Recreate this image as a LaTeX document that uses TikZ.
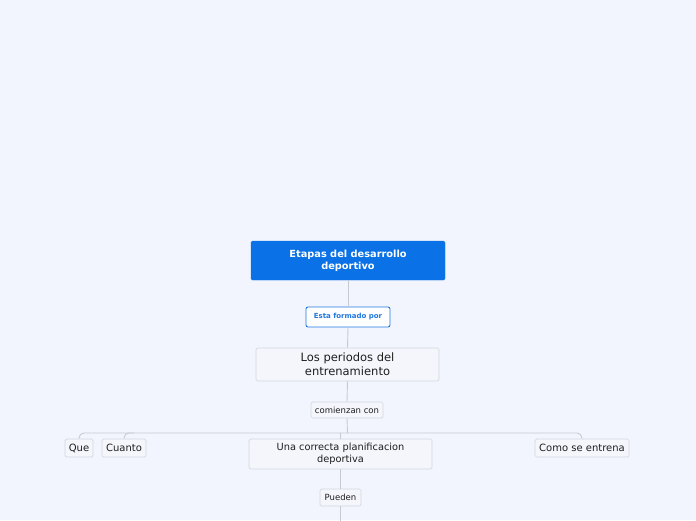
\documentclass[tikz,border=0pt]{standalone}
\usepackage{fontspec}
\setmainfont{DejaVu Sans}
\definecolor{bgc}{HTML}{F2F5FE}
\definecolor{rootblue}{HTML}{0A72E6}
\definecolor{linkblue}{HTML}{1F78E0}
\definecolor{boxfill}{HTML}{F4F6FC}
\definecolor{boxdraw}{HTML}{D2D6DE}
\definecolor{conncol}{HTML}{C6CAD2}
\definecolor{txt}{HTML}{1E1E1E}
\begin{document}
\begin{tikzpicture}[x=1pt,y=-1pt,
  rootbox/.style={fill=rootblue,draw=rootblue,rounded corners=1.5pt,inner sep=0pt,
    text=white,align=center,font=\fontsize{9.8}{12}\selectfont\bfseries},
  linkbox/.style={fill=white,draw=linkblue,line width=0.9pt,rounded corners=2pt,inner sep=0pt,
    text=linkblue,align=center,font=\fontsize{7}{8}\selectfont\bfseries},
  topicbox/.style={fill=boxfill,draw=boxdraw,line width=0.7pt,rounded corners=1.5pt,inner sep=0pt,
    text=txt,align=center},
  conn/.style={draw=conncol,line width=0.9pt}
]
\fill[bgc] (0,0) rectangle (696,520);
\useasboundingbox (0,0) rectangle (696,520);

\node[rootbox,minimum width=194pt,minimum height=39pt] (root) at (348,260.5)
  {Etapas del desarrollo\\deportivo};
\node[linkbox,minimum width=84pt,minimum height=20pt] (esta) at (348,317)
  {Esta formado por};
\node[topicbox,minimum width=183pt,minimum height=33pt,font=\fontsize{11.5}{14}\selectfont] (los) at (347.5,364.5)
  {Los periodos del\\entrenamiento};
\node[topicbox,minimum width=72pt,minimum height=16pt,font=\fontsize{8.5}{10}\selectfont] (com) at (347,410)
  {comienzan con};
\node[topicbox,minimum width=28pt,minimum height=18pt,font=\fontsize{10}{12}\selectfont] (que) at (79,448)
  {Que};
\node[topicbox,minimum width=44pt,minimum height=18pt,font=\fontsize{10}{12}\selectfont] (cuanto) at (124,448)
  {Cuanto};
\node[topicbox,minimum width=183pt,minimum height=30pt,font=\fontsize{9.8}{12}\selectfont] (una) at (340.5,454)
  {Una correcta planificacion\\deportiva};
\node[topicbox,minimum width=94pt,minimum height=18pt,font=\fontsize{10}{12}\selectfont] (como) at (582,448)
  {Como se entrena};
\node[topicbox,minimum width=41pt,minimum height=17pt,font=\fontsize{8.5}{10}\selectfont] (pueden) at (340.5,497.5)
  {Pueden};

\coordinate (bar) at (347.5,433);
\coordinate (down) at (340.5,522);

\draw[conn] (root.south) -- (esta.north);
\draw[conn] (esta.south) -- (los.north);
\draw[conn] (los.south) -- (com.north);
\draw[conn] (com.south) -- (bar);
\draw[conn,rounded corners=5pt] (que.north) -- (que.north |- bar) -- (como.north |- bar) -- (como.north);
\draw[conn,rounded corners=5pt] (cuanto.north) -- (cuanto.north |- bar) -- ([xshift=10pt]cuanto.north |- bar);
\draw[conn] (una.north) -- (una.north |- bar);
\draw[conn] (una.south) -- (pueden.north);
\draw[conn] (pueden.south) -- (down);
\end{tikzpicture}
\end{document}
